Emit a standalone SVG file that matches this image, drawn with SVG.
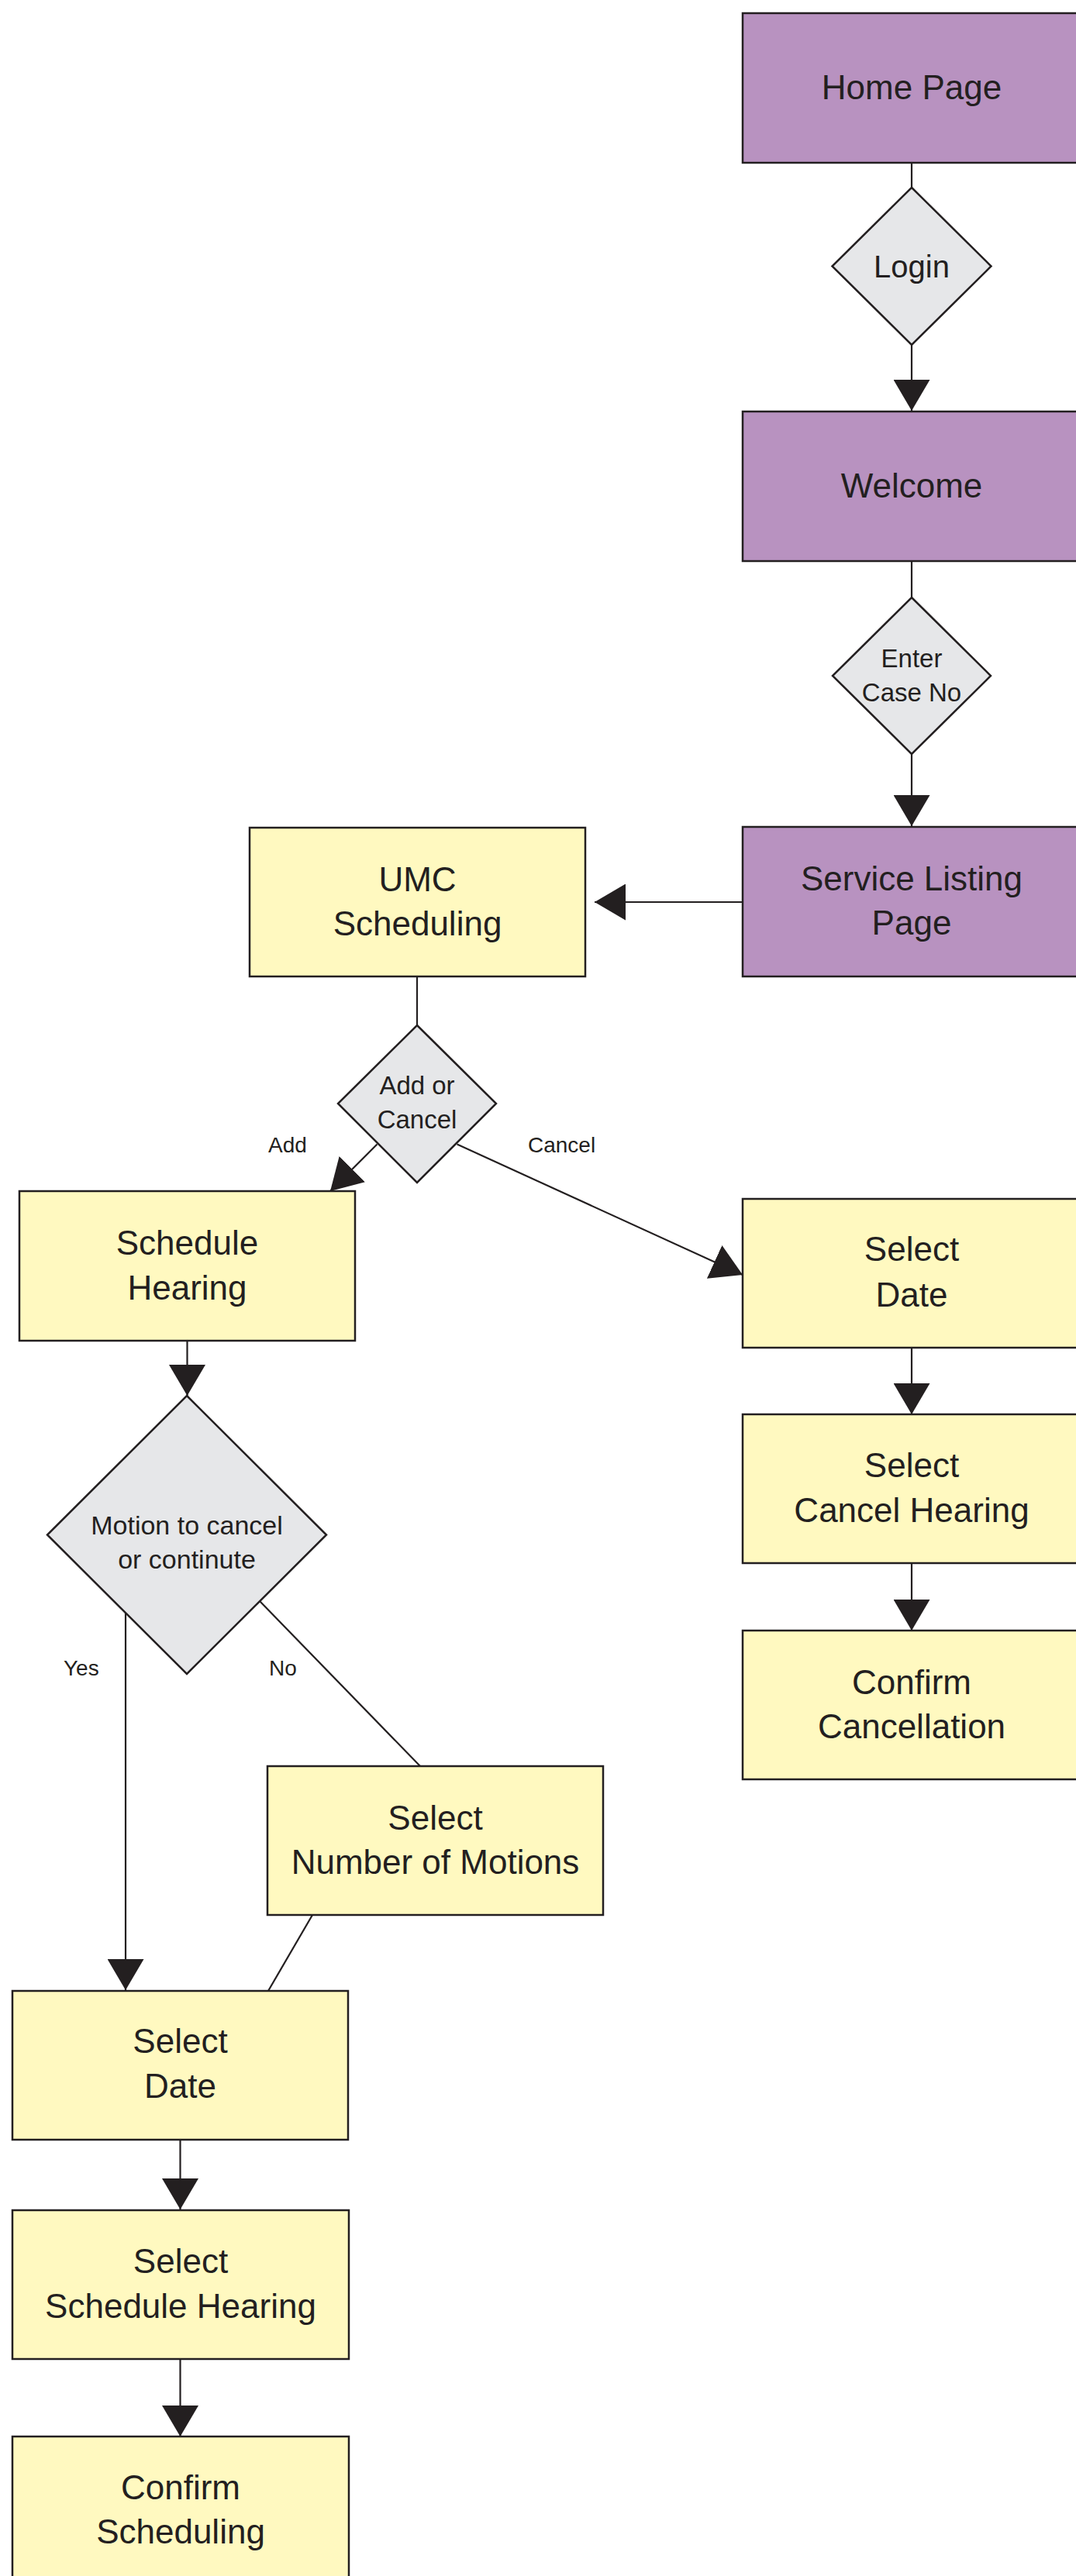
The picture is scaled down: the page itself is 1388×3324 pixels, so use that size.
<svg xmlns="http://www.w3.org/2000/svg" width="1388" height="3324" viewBox="0 0 1388 3324">
<defs>
<marker id="arr" markerUnits="userSpaceOnUse" markerWidth="40" markerHeight="47" viewBox="0 0 40 47" refX="40" refY="23.5" orient="auto">
<path d="M0,0 L40,23.5 L0,47 Z" fill="#231F20"/>
</marker>
<style>
.page{fill:#B892C0;stroke:#231F20;stroke-width:2.5}
.step{fill:#FFF9C0;stroke:#231F20;stroke-width:2.5}
.dec{fill:#E6E7E9;stroke:#231F20;stroke-width:2.5}
.t{font-family:"Liberation Sans",Arial,sans-serif;font-size:44px;fill:#231F20;text-anchor:middle}
.td{font-family:"Liberation Sans",Arial,sans-serif;font-size:33px;fill:#231F20;text-anchor:middle}
.tl{font-family:"Liberation Sans",Arial,sans-serif;font-size:28px;fill:#231F20}
.c{stroke:#231F20;stroke-width:2.2;fill:none}
.a{marker-end:url(#arr)}
</style>
</defs>
<rect width="1388" height="3324" fill="#FFFFFF"/>

<g id="connectors">
<line class="c" x1="1176" y1="210" x2="1176" y2="242"/>
<line class="c a" x1="1176" y1="445" x2="1176" y2="530"/>
<line class="c" x1="1176" y1="724" x2="1176" y2="771"/>
<line class="c a" x1="1176" y1="973" x2="1176" y2="1066"/>
<line class="c a" x1="958" y1="1164" x2="767" y2="1164"/>
<line class="c" x1="538" y1="1260" x2="538" y2="1323"/>
<line class="c a" x1="486.5" y1="1476.5" x2="426" y2="1537"/>
<line class="c a" x1="589.6" y1="1476.5" x2="958" y2="1645"/>
<line class="c a" x1="1176" y1="1739" x2="1176" y2="1825"/>
<line class="c a" x1="1176" y1="2017" x2="1176" y2="2104"/>
<line class="c a" x1="241.5" y1="1730" x2="241.5" y2="1801"/>
<line class="c a" x1="162" y1="2081" x2="162" y2="2568"/>
<line class="c" x1="335" y1="2066" x2="542" y2="2279"/>
<line class="c" x1="403" y1="2471" x2="346" y2="2569"/>
<line class="c a" x1="232.5" y1="2761" x2="232.5" y2="2851"/>
<line class="c a" x1="232.5" y1="3044" x2="232.5" y2="3144"/>
<text class="tl" x="346" y="1487">Add</text>
<text class="tl" x="681" y="1487">Cancel</text>
<text class="tl" x="82" y="2162">Yes</text>
<text class="tl" x="347" y="2162">No</text>
</g>

<g id="home-page">
<rect class="page" x="958" y="17" width="436" height="193"/>
<text class="t" x="1176" y="128">Home Page</text>
</g>
<g id="login">
<polygon class="dec" points="1176,242 1278.5,343.5 1176,445 1073.5,343.5"/>
<text class="t" x="1176" y="358" style="font-size:40px">Login</text>
</g>
<g id="welcome">
<rect class="page" x="958" y="531" width="436" height="193"/>
<text class="t" x="1176" y="642">Welcome</text>
</g>
<g id="enter-case-no">
<polygon class="dec" points="1176,771 1278,872 1176,973 1074,872"/>
<text class="td" x="1176" y="861">Enter</text>
<text class="td" x="1176" y="905">Case No</text>
</g>
<g id="service-listing-page">
<rect class="page" x="958" y="1067" width="436" height="193"/>
<text class="t" x="1176" y="1149">Service Listing</text>
<text class="t" x="1176" y="1206">Page</text>
</g>
<g id="umc-scheduling">
<rect class="step" x="322" y="1068" width="433" height="192"/>
<text class="t" x="538.5" y="1150">UMC</text>
<text class="t" x="538.5" y="1207">Scheduling</text>
</g>
<g id="add-or-cancel">
<polygon class="dec" points="538,1323 640,1424 538,1526 436,1424"/>
<text class="td" x="538" y="1412">Add or</text>
<text class="td" x="538" y="1456">Cancel</text>
</g>
<g id="schedule-hearing">
<rect class="step" x="25" y="1537" width="433" height="193"/>
<text class="t" x="241.5" y="1619">Schedule</text>
<text class="t" x="241.5" y="1677">Hearing</text>
</g>
<g id="motion-decision">
<polygon class="dec" points="241,1801 421,1980.5 241,2160 61,1980.5"/>
<text class="td" x="241" y="1980" style="font-size:34px">Motion to cancel</text>
<text class="td" x="241" y="2024" style="font-size:34px">or continute</text>
</g>
<g id="select-number-of-motions">
<rect class="step" x="345" y="2279" width="433" height="192"/>
<text class="t" x="561.5" y="2361">Select</text>
<text class="t" x="561.5" y="2418">Number of Motions</text>
</g>
<g id="select-date-left">
<rect class="step" x="16" y="2569" width="433" height="192"/>
<text class="t" x="232.5" y="2649">Select</text>
<text class="t" x="232.5" y="2707">Date</text>
</g>
<g id="select-schedule-hearing">
<rect class="step" x="16" y="2852" width="434" height="192"/>
<text class="t" x="233" y="2933">Select</text>
<text class="t" x="233" y="2991">Schedule Hearing</text>
</g>
<g id="confirm-scheduling">
<rect class="step" x="16" y="3144" width="434" height="192"/>
<text class="t" x="233" y="3225">Confirm</text>
<text class="t" x="233" y="3282">Scheduling</text>
</g>
<g id="select-date-right">
<rect class="step" x="958" y="1547" width="436" height="192"/>
<text class="t" x="1176" y="1627">Select</text>
<text class="t" x="1176" y="1686">Date</text>
</g>
<g id="select-cancel-hearing">
<rect class="step" x="958" y="1825" width="436" height="192"/>
<text class="t" x="1176" y="1906">Select</text>
<text class="t" x="1176" y="1964">Cancel Hearing</text>
</g>
<g id="confirm-cancellation">
<rect class="step" x="958" y="2104" width="436" height="192"/>
<text class="t" x="1176" y="2186">Confirm</text>
<text class="t" x="1176" y="2243">Cancellation</text>
</g>
</svg>
